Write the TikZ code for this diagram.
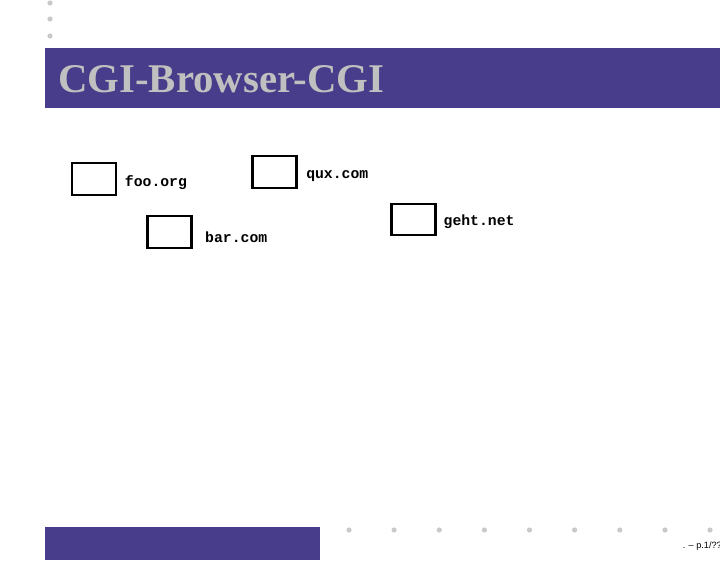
\documentclass[tikz,border=0pt]{standalone}
\usepackage{fontspec}
\setmainfont{Liberation Serif}
\setsansfont{Liberation Sans}
\setmonofont{Liberation Mono}
\usetikzlibrary{positioning}
\definecolor{slidebar}{RGB}{72,61,139}
\definecolor{slidegray}{RGB}{192,192,192}
\tikzset{
  host/.style={draw, line width=1.5pt, minimum width=1.1cm, minimum height=0.78cm, inner sep=0pt},
  hostname/.style={inner sep=0pt, font=\ttfamily\bfseries\fontsize{10.5}{12}\selectfont},
  navdot/.style={circle, fill=slidegray!85, inner sep=0pt, minimum size=0.13cm}
}
\begin{document}
\begin{tikzpicture}[x=0.025cm, y=-0.025cm]
  \useasboundingbox (0,0) rectangle (720,560);
  % navigation dots
  \foreach \y in {3, 19, 36}
    \node[navdot] at (50,\y) {};
  \foreach \x in {349, 394.1, 439.3, 484.4, 529.5, 574.6, 619.8, 664.9, 710}
    \node[navdot] at (\x,530) {};
  % title bar
  \fill[slidebar] (45,48) rectangle (720,108);
  \node[anchor=base west, inner sep=0pt, text=slidegray, font=\bfseries\fontsize{29}{33}\selectfont] (title) at (58,92) {CGI-Browser-CGI};
  \fill[slidebar] (45,527) rectangle (320,560);
  \node[anchor=base east, inner sep=0pt, font=\sffamily\fontsize{6.5}{8}\selectfont] (page) at (722,548) {. -- p.1/??};
  % hosts
  \node[host] (foo) at (94,179) {};
  \node[host] (qux) at (274.5,172) {};
  \node[host] (bar) at (169.5,232) {};
  \node[host] (geht) at (413.5,219.5) {};
  \node[hostname, right=0.19cm of foo, yshift=-0.095cm] (foolabel) {foo.org};
  \node[hostname, right=0.21cm of qux, yshift=-0.11cm] (quxlabel) {qux.com};
  \node[hostname, right=0.31cm of bar, yshift=-0.125cm] (barlabel) {bar.com};
  \node[hostname, right=0.17cm of geht, yshift=-0.05cm] (gehtlabel) {geht.net};
\end{tikzpicture}
\end{document}
